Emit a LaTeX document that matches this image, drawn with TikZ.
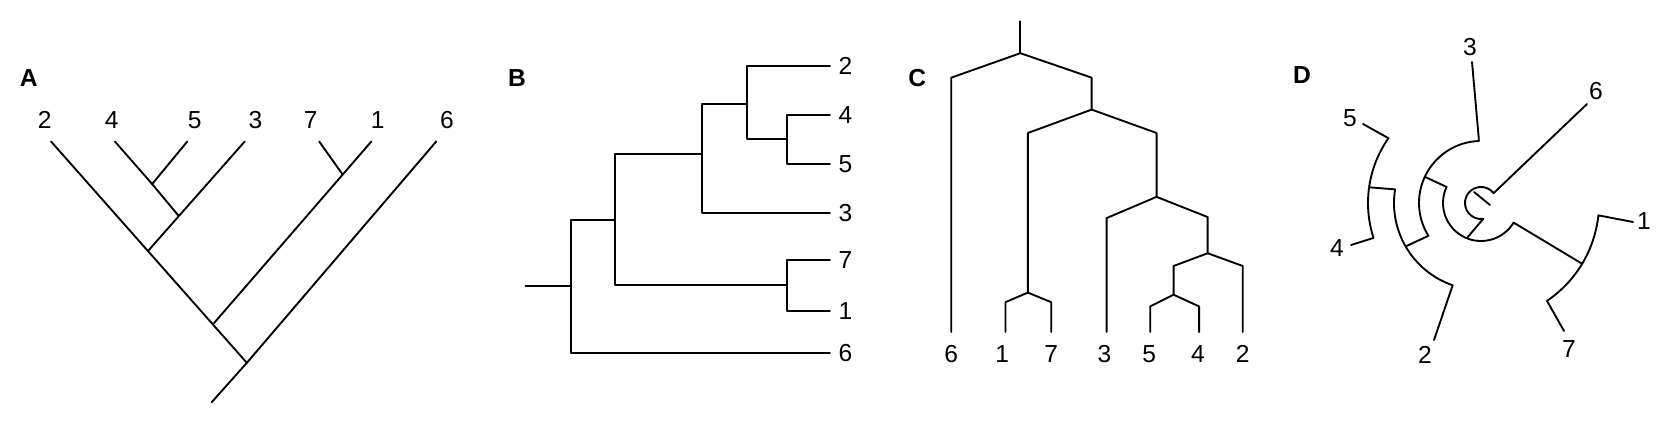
\documentclass[tikz,border=0pt]{standalone}
\usepackage{fontspec}
\setmainfont{Liberation Sans}
\usetikzlibrary{positioning}
\begin{document}
\begin{tikzpicture}[
    x=0.03cm, y=-0.03cm,
    br/.style={line width=1.6pt, line cap=round, line join=round},
    tip/.style={font=\fontsize{21}{24}\selectfont, inner sep=0pt},
    panel/.style={font=\fontsize{21}{24}\selectfont\bfseries, inner sep=0pt}
]
\useasboundingbox (0,0) rectangle (1666,423);
\begin{scope}[scale=1.064]
% Panel A: slanted tree
\node[panel] (lA) at (27,73) {A};
\foreach \x/\t in {42/2, 105/4, 183/5, 240/3, 292/7, 355/1, 420/6}
  \node[tip] (a\t) at (\x,113) {\t};
\draw[br] (199,378) -- (232,341) -- (48,133);
\draw[br] (232,341) -- (410,133);
\draw[br] (139,236) -- (230,133);
\draw[br] (168,203) -- (143,173) -- (108,133);
\draw[br] (143,173) -- (176,133);
\draw[br] (200,305) -- (349,133);
\draw[br] (322,164) -- (300,133);

% Panel B: rectangular tree
\node[panel] (lB) at (486,73) {B};
\foreach \y/\t in {62/2, 108/4, 154/5, 200/3, 244/7, 292/1, 332/6}
  \node[tip, anchor=west] (b\t) at (788,\y) {\t};
\draw[br] (494,269) -- (537,269);
\draw[br] (780,332) -| (537,207) -- (578,207);
\draw[br] (740,268) -- (578,268) |- (660,145);
\draw[br] (780,200) -| (660,98) -- (702,98);
\draw[br] (780,62) -| (702,131) -- (740,131);
\draw[br] (780,108) -| (740,154) -- (780,154);
\draw[br] (780,244) -| (740,292) -- (780,292);

% Panel C: cladogram
\node[panel] (lC) at (862,73) {C};
\foreach \x/\t in {894/6, 942/1, 988/7, 1038/3, 1080/5, 1126/4, 1168/2}
  \node[tip] (c\t) at (\x,333) {\t};
\draw[br] (959,20) -- (959,50);
\draw[br] (894,312) -- (894,73) -- (959,50) -- (1026,73) -- (1026,103);
\draw[br] (966,275) -- (966,125) -- (1026,103) -- (1087,125) -- (1087,185);
\draw[br] (945,312) -- (945,284) -- (966,275) -- (988,284) -- (988,312);
\draw[br] (1040,312) -- (1040,205) -- (1087,185) -- (1135,204) -- (1135,238);
\draw[br] (1103,277) -- (1103,250) -- (1135,238) -- (1168,250) -- (1168,312);
\draw[br] (1081,312) -- (1081,288) -- (1103,277) -- (1127,288) -- (1127,312);
\end{scope}

% Panel D: fan tree
\node[panel] (lD) at (1302,75) {D};
\begin{scope}[shift={(1481,203)}, x=0.03cm, y=0.03cm]
\node[tip] (d3) at (-11,156) {3};
\node[tip] (d6) at (115,112) {6};
\node[tip] (d1) at (163,-18) {1};
\node[tip] (d7) at (88,-146) {7};
\node[tip] (d2) at (-56,-152) {2};
\node[tip] (d4) at (-144,-45) {4};
\node[tip] (d5) at (-131,85) {5};
\draw[br] (-7,11) -- (9,-2);
\draw[br] (106,99) -- (38:16) arc[start angle=38, end angle=278, radius=16] -- (248:38);
\draw[br] (155:38) arc[start angle=155, end angle=329, radius=38] -- (329:118);
\draw[br] (155:38) -- (155:62);
\draw[br] (-9,141) -- (92:65) -- (92:62) arc[start angle=92, end angle=212, radius=62] -- (210:86);
\draw[br] (152,-19) -- (354:118) arc[start angle=354, end angle=304, radius=118] -- (83,-128);
\draw[br] (171:87) arc[start angle=171, end angle=251, radius=87] -- (-47,-137);
\draw[br] (171:87) -- (172:113);
\draw[br] (-118,79) -- (145:113) arc[start angle=145, end angle=198, radius=113] -- (-130,-42);
\end{scope}
\end{tikzpicture}
\end{document}
